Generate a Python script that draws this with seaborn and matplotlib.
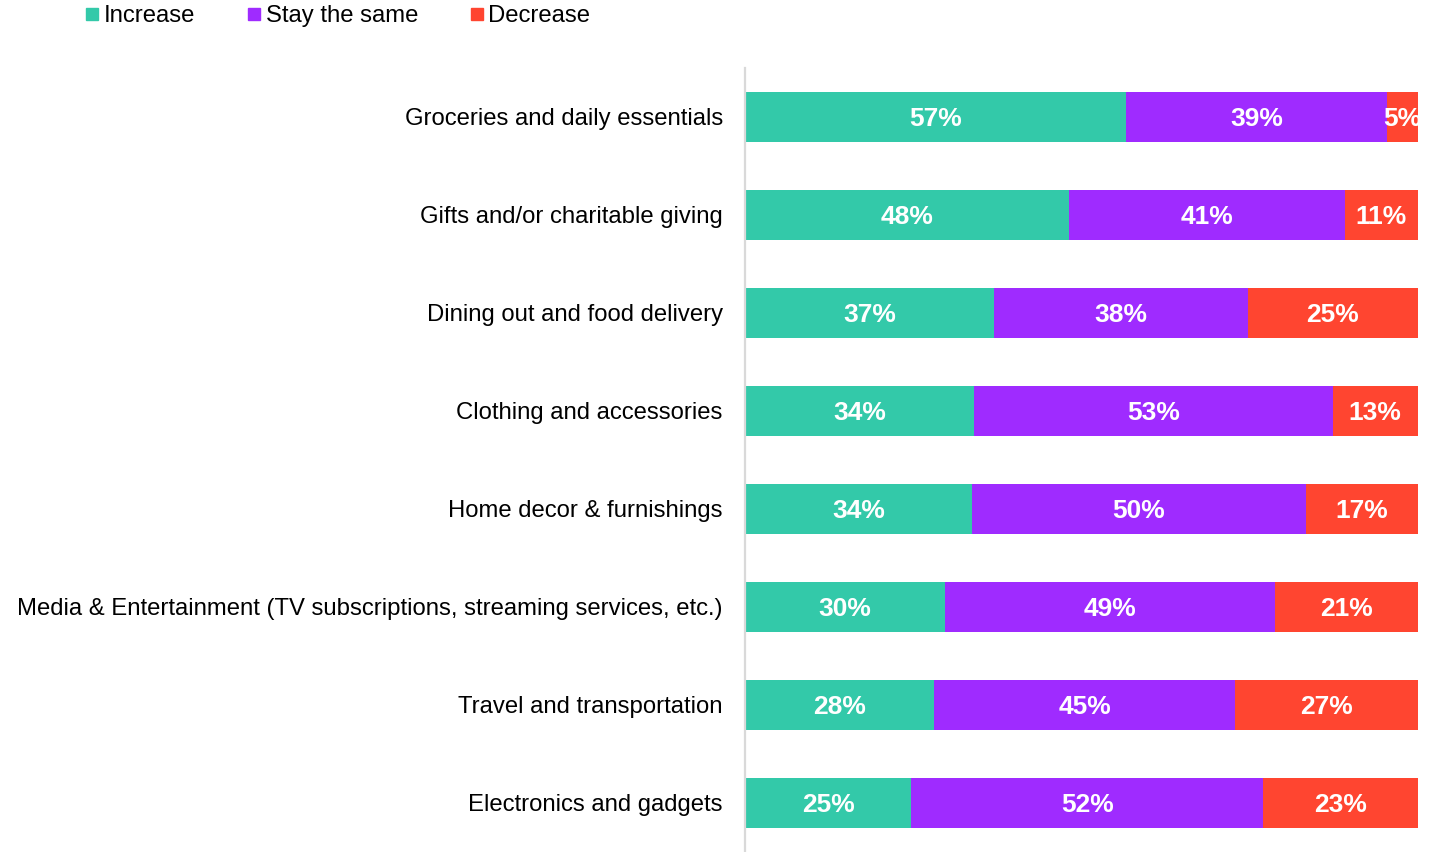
import matplotlib
matplotlib.use("Agg")
import matplotlib.pyplot as plt
from matplotlib.lines import Line2D
import seaborn as sns
import numpy as np
import pandas as pd

categories = [
    "Groceries and daily essentials",
    "Gifts and/or charitable giving",
    "Dining out and food delivery",
    "Clothing and accessories",
    "Home decor & furnishings",
    "Media & Entertainment (TV subscriptions, streaming services, etc.)",
    "Travel and transportation",
    "Electronics and gadgets",
]
increase = [56.6, 48.1, 37.0, 34.0, 33.7, 29.7, 28.1, 24.7]
stay_same = [38.8, 41.0, 37.7, 53.3, 49.6, 49.1, 44.7, 52.3]
decrease = [4.6, 10.9, 25.3, 12.7, 16.7, 21.2, 27.2, 23.0]
series_names = ["Increase", "Stay the same", "Decrease"]
colors = ["#33C9A9", "#9F2BFF", "#FF4530"]

sns.set_theme(style="white")
plt.rcParams["font.family"] = ["Liberation Sans", "DejaVu Sans"]

df = pd.DataFrame({"cat": categories, "inc": increase, "stay": stay_same, "dec": decrease})
df["c2"] = df["inc"] + df["stay"]
df["c3"] = df["c2"] + df["dec"]

fig = plt.figure(figsize=(14.37, 8.52), dpi=100)
ax = fig.add_axes([745 / 1437, 0.0, (1418 - 745) / 1437, 1 - 68 / 852])

bw = 0.51
sns.barplot(data=df, x="c3", y="cat", orient="h", color=colors[2], width=bw,
            saturation=1, ax=ax, order=categories, linewidth=0)
sns.barplot(data=df, x="c2", y="cat", orient="h", color=colors[1], width=bw,
            saturation=1, ax=ax, order=categories, linewidth=0)
sns.barplot(data=df, x="inc", y="cat", orient="h", color=colors[0], width=bw,
            saturation=1, ax=ax, order=categories, linewidth=0)

for i, row in df.iterrows():
    segs = [(0, row["inc"]), (row["inc"], row["stay"]), (row["c2"], row["dec"])]
    for start, w in segs:
        ax.text(start + w / 2, i, f"{w:.0f}%", ha="center", va="center_baseline",
                color="white", fontsize=19, fontweight="bold", clip_on=True)

ax.set_xlim(0, 100)
ax.set_ylim(7.5, -0.5)
ax.set_xlabel("")
ax.set_ylabel("")
ax.set_xticks([])
ax.tick_params(axis="y", length=0, pad=16, labelsize=17.2, labelcolor="black")
for s in ["top", "right", "bottom"]:
    ax.spines[s].set_visible(False)
ax.spines["left"].set_color("#D9D9D9")
ax.spines["left"].set_linewidth(1.6)

handles = [Line2D([0], [0], marker="s", linestyle="", markersize=8.5,
                  markerfacecolor=c, markeredgecolor=c) for c in colors]
fig.legend(handles, series_names, loc="upper left", bbox_to_anchor=(83.5 / 1437, 1 - 5 / 852),
           ncol=3, frameon=False, fontsize=17.2, handlelength=0.7, labelcolor="black",
           handletextpad=0.15, columnspacing=2.1, borderpad=0, borderaxespad=0)

fig.savefig("out.png", dpi=100)
